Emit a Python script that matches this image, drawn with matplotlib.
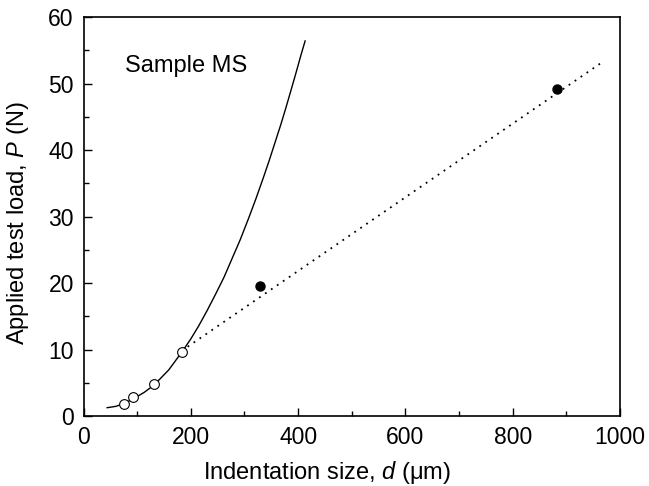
import numpy as np
import matplotlib.pyplot as plt
from matplotlib.ticker import MultipleLocator

plt.rcParams.update({
    "font.family": ["Liberation Sans", "DejaVu Sans"],
    "font.size": 16.5,
    "mathtext.fontset": "custom",
    "mathtext.it": "Liberation Sans:italic",
    "mathtext.rm": "Liberation Sans",
})

# open circles (small loads)
d_open = [75, 92, 131, 183]
p_open = [1.85, 2.8, 4.8, 9.6]

# filled circles (large loads)
d_fill = [329, 883]
p_fill = [19.6, 49.2]

# solid fit curve
d_curve = [44, 60, 75, 94, 113, 132, 159, 184, 200, 215, 230, 246, 262, 277,
           292, 308, 321, 335, 346, 358, 368, 377, 386, 396, 405, 413]
p_curve = [1.25, 1.45, 1.85, 2.65, 3.55, 4.7, 6.95, 9.7, 11.6, 13.6, 15.8, 18.3, 20.9, 23.7,
           26.5, 29.8, 32.6, 35.8, 38.4, 41.4, 43.9, 46.3, 48.8, 51.6, 54.2, 56.4]

# dotted line
d_dot = [183, 963]
p_dot = [9.8, 53.0]

fig = plt.figure(figsize=(6.49, 4.86), dpi=100)
ax = fig.add_axes([0.1287, 0.144, 0.8267, 0.821])

ax.plot(d_curve, p_curve, color="black", lw=1.0)
ax.plot(d_dot, p_dot, color="black", lw=1.3, linestyle=(0, (1, 3)))
ax.plot(d_open, p_open, "o", mfc="white", mec="black", mew=0.8, ms=7)
ax.plot(d_fill, p_fill, "o", color="black", ms=6.5)

ax.text(78, 52.6, "Sample MS", fontsize=17, va="center")

ax.set_xlim(0, 1000)
ax.set_ylim(0, 60)
ax.xaxis.set_major_locator(MultipleLocator(200))
ax.xaxis.set_minor_locator(MultipleLocator(100))
ax.yaxis.set_major_locator(MultipleLocator(10))
ax.yaxis.set_minor_locator(MultipleLocator(5))
ax.tick_params(which="major", direction="in", length=6, width=1.0, labelsize=16.5, pad=7)
ax.tick_params(which="minor", direction="in", length=3.5, width=1.0)
for s in ax.spines.values():
    s.set_linewidth(1.2)

ax.set_xlabel("Indentation size, $d$ (\u03bcm)", fontsize=17)
ax.set_ylabel("Applied test load, $P$ (N)", fontsize=17)
ax.xaxis.set_label_coords(0.454, -0.108)
ax.yaxis.set_label_coords(-0.097, 0.484)

fig.savefig("out.png", dpi=100)
